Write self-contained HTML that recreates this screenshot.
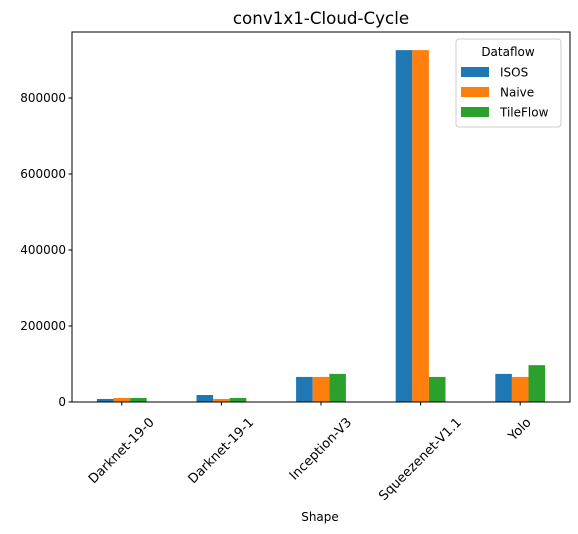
<!DOCTYPE html>
<html><head><meta charset="utf-8"><style>
html,body{margin:0;padding:0;background:#fff;}
svg{display:block;font-family:"DejaVu Sans","Liberation Sans",sans-serif;}
</style></head><body>
<svg id="chart" width="578" height="534">
<text x="321" y="24" font-size="16.7" text-anchor="middle">conv1x1-Cloud-Cycle</text>
<text x="320" y="521" font-size="12" text-anchor="middle">Shape</text>
</svg>
<script>
const categories = ["Darknet-19-0","Darknet-19-1","Inception-V3","Squeezenet-V1.1","Yolo"];
const seriesNames = ["ISOS","Naive","TileFlow"];
const isosValues = [8000,18400,66000,926000,74000];
const naiveValues = [10500,8000,66000,926000,66000];
const tileflowValues = [10500,10500,74000,66000,97000];
const yTicks = [0,200000,400000,600000,800000];
const colors = ["#1f77b4","#ff7f0e","#2ca02c"];
const series=[isosValues,naiveValues,tileflowValues];
const NS="http://www.w3.org/2000/svg";
const svg=document.getElementById('chart');
const L=72,R=570,T=32,B=402;
const yMax=973700;
const y=v=>B-(v/yMax)*(B-T);
const step=(R-L)/categories.length;
const xc=i=>L+step*(i+0.5);
const bw=step*0.5/3;
function mk(tag,attrs){const e=document.createElementNS(NS,tag);for(const k in attrs)e.setAttribute(k,attrs[k]);svg.appendChild(e);return e;}
series.forEach((vals,s)=>{vals.forEach((v,i)=>{
 const r=mk('rect',{x:xc(i)-1.5*bw+s*bw,y:y(v),width:bw,height:B-y(v),fill:colors[s]});
 
 
});});
const frame=mk('rect',{x:L,y:T,width:R-L,height:B-T,fill:'none',stroke:'#000','stroke-width':1});


yTicks.forEach(t=>{
 const yy=y(t);
 const ln=mk('line',{x1:L-3.5,x2:L,y1:yy,y2:yy,stroke:'#000'});
 
 
 const tx=mk('text',{x:L-6,y:yy+4,'font-size':12,'text-anchor':'end'});
 tx.textContent=t;
 
 
});
categories.forEach((c,i)=>{
 const xx=xc(i);
 const ln=mk('line',{x1:xx,x2:xx,y1:B,y2:B+3.5,stroke:'#000'});
 
 
 const tx=mk('text',{x:0,y:0,'font-size':13,'text-anchor':'middle','dominant-baseline':'central'});
 tx.textContent=c;
 
 
 const len=tx.getComputedTextLength();
 const h=13;
 const half=(len+h)*0.7071/2;
 const cy=B+14+half;
 tx.setAttribute('x',xx);
 tx.setAttribute('y',cy);
 tx.setAttribute('transform',`rotate(-45 ${xx} ${cy})`);
});
const lg=mk('rect',{x:456,y:39,width:105,height:88,rx:3,fill:'#fff','fill-opacity':0.8,stroke:'#ccc'});


const lt=mk('text',{x:508,y:56,'font-size':12,'text-anchor':'middle'});
lt.textContent='Dataflow';


seriesNames.forEach((n,s)=>{
 const cy=72+s*20;
 const p=mk('rect',{x:461,y:cy-5,width:28,height:10,fill:colors[s]});
 
 
 const t=mk('text',{x:500,y:cy+4.5,'font-size':12});
 t.textContent=n;
 
 
});
</script>
</body></html>
